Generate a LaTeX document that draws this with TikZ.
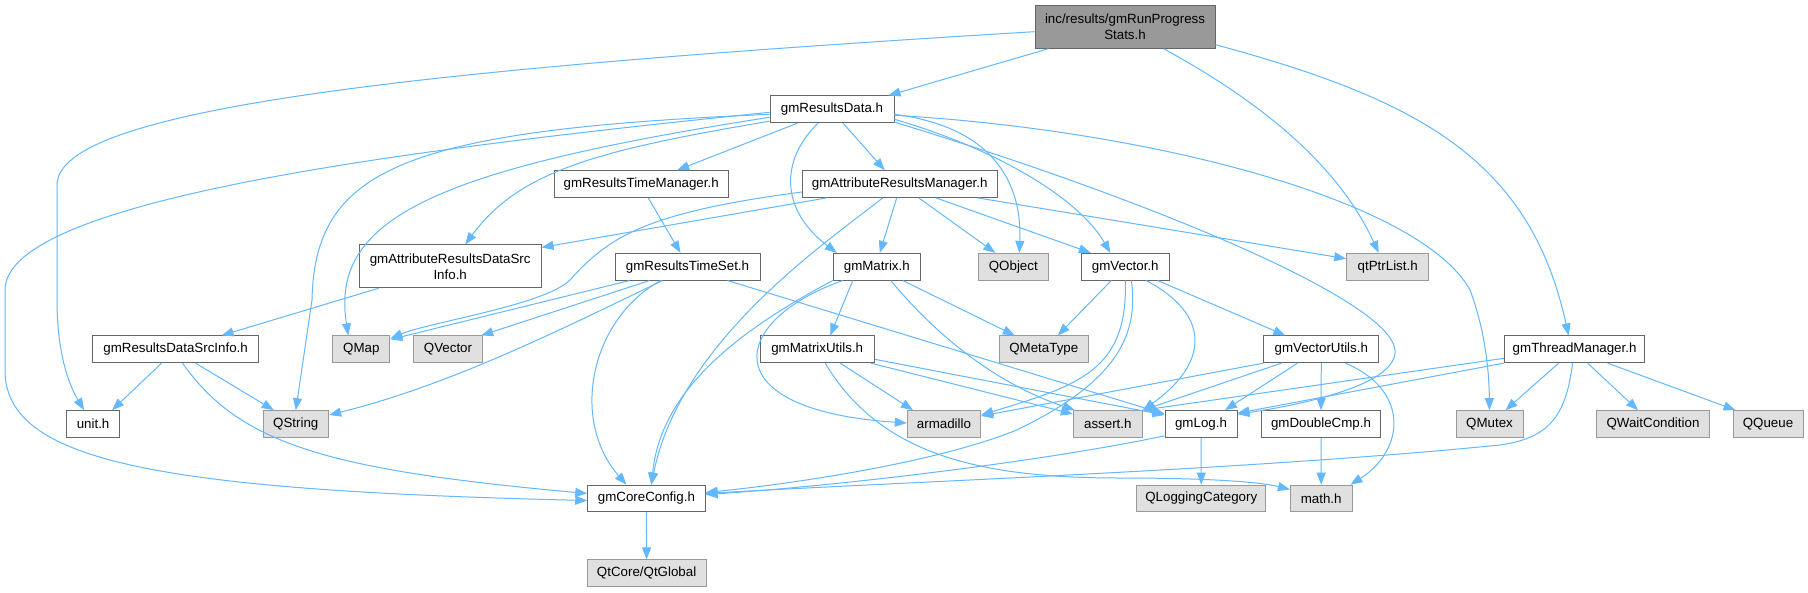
\documentclass[tikz,border=0pt]{standalone}
\usepackage{fontspec}
\setmainfont{Liberation Sans}
\usetikzlibrary{arrows.meta,calc}
\definecolor{edgec}{HTML}{63B8FF}
\definecolor{bordw}{HTML}{666666}
\definecolor{bordg}{HTML}{999999}
\definecolor{fillg}{HTML}{E0E0E0}
\definecolor{rootf}{HTML}{999999}
\newcommand\dgfont{\fontsize{13.33}{16}\selectfont}
\tikzset{
  nb/.style={draw=bordw, fill=white, line width=1pt, inner sep=0pt, minimum height=26.7pt, font=\dgfont, align=center},
  wn/.style={nb},
  gn/.style={nb, draw=bordg, fill=fillg},
  rn/.style={nb, fill=rootf, minimum height=43pt},
  bw/.style={minimum width=#1pt},
  dep/.style={draw=edgec, line width=1pt, -{Triangle[length=12pt,width=9pt]}},
}
\begin{document}
\begin{tikzpicture}[x=1pt,y=-1pt]
\fill[white] (0,0) rectangle (1808,592);
\useasboundingbox (0,0) rectangle (1808,592);
% nodes
\node[rn, bw=180] (root) at (1125,26.7) {inc/results/gmRunProgress\\Stats.h};
\node[wn, bw=124] (rd) at (832,109.3) {gmResultsData.h};
\node[wn, bw=174.3] (rtm) at (641.2,184) {gmResultsTimeManager.h};
\node[wn, bw=194.6] (arm) at (899.7,184) {gmAttributeResultsManager.h};
\node[wn, bw=181.7, minimum height=42.7pt] (ards) at (450.2,266.3) {gmAttributeResultsDataSrc\\Info.h};
\node[wn, bw=145] (rts) at (687.5,266.7) {gmResultsTimeSet.h};
\node[wn, bw=87] (mat) at (876.8,266.7) {gmMatrix.h};
\node[gn, bw=70] (qobj) at (1013.3,266.7) {QObject};
\node[wn, bw=88] (vec) at (1125.3,266.7) {gmVector.h};
\node[gn, bw=82] (qpl) at (1387.7,266.7) {qtPtrList.h};
\node[wn, bw=165.3] (rdsi) at (175.6,349.3) {gmResultsDataSrcInfo.h};
\node[gn, bw=57.3] (qmap) at (361.3,349.3) {QMap};
\node[gn, bw=69.4] (qvec) at (448,349.3) {QVector};
\node[wn, bw=114.3] (mu) at (817.2,349.3) {gmMatrixUtils.h};
\node[gn, bw=89] (qmt) at (1043.8,349.3) {QMetaType};
\node[wn, bw=114.7] (vu) at (1321.3,349.3) {gmVectorUtils.h};
\node[wn, bw=140.4] (tm) at (1574.6,349.3) {gmThreadManager.h};
\node[wn, bw=53.4] (unit) at (93.1,424) {unit.h};
\node[gn, bw=65.6] (qstr) at (295.8,424) {QString};
\node[gn, bw=73.4] (armd) at (944,424) {armadillo};
\node[gn, bw=69] (ast) at (1107.8,424) {assert.h};
\node[wn, bw=72] (log) at (1201,424) {gmLog.h};
\node[wn, bw=119.4] (dc) at (1321,424) {gmDoubleCmp.h};
\node[gn, bw=67] (qmx) at (1489.5,424) {QMutex};
\node[gn, bw=112.5] (qwc) at (1653,424) {QWaitCondition};
\node[gn, bw=70] (qq) at (1768,424) {QQueue};
\node[wn, bw=117.3] (cc) at (646.4,498.5) {gmCoreConfig.h};
\node[gn, bw=129.3] (qlc) at (1201.3,498.5) {QLoggingCategory};
\node[gn, bw=61.6] (math) at (1321.2,498.5) {math.h};
\node[gn, bw=119] (qtg) at (646.6,573.3) {QtCore/QtGlobal};
% root edges
\draw[dep] ($(root.west)+(0,5)$) .. controls (400,70) and (57,110) .. (57,185) -- (57,300) .. controls (57,360) and (72,390) .. ($(unit.north)+(-9,0)$);
\draw[dep] ($(root.south west)+(14,0)$) -- ($(rd.north east)+(-6,0)$);
\draw[dep] ($(root.south east)+(-52,0)$) .. controls (1285,115) and (1345,180) .. ($(qpl.north)+(-9,0)$);
\draw[dep] ($(root.east)+(0,18)$) .. controls (1420,100) and (1530,160) .. ($(tm.north)+(-6,0)$);
% gmResultsData edges
\draw[dep] ($(rd.west)+(0,3)$) .. controls (400,150) and (5,200) .. (5,290) -- (5,370) .. controls (5,460) and (150,490) .. ($(cc.west)+(0,2)$);
\draw[dep] ($(rd.west)+(0,5)$) .. controls (400,130) and (315,170) .. (312,300) -- (qstr.north);
\draw[dep] ($(rd.west)+(0,8)$) .. controls (430,170) and (330,220) .. ($(qmap.north)+(-13,0)$);
\draw[dep] ($(rd.south west)+(0,-2)$) .. controls (600,150) and (520,170) .. ($(ards.north)+(15,0)$);
\draw[dep] ($(rd.south west)+(28,0)$) -- ($(rtm.north)+(36,0)$);
\draw[dep] ($(rd.south)+(-14,0)$) .. controls (780,160) and (780,210) .. ($(mat.north)+(-40,0)$);
\draw[dep] ($(rd.south)+(11,0)$) -- ($(arm.north)+(-15,0)$);
\draw[dep] ($(rd.east)+(0,5)$) .. controls (1000,128) and (1022,190) .. ($(qobj.north)+(6,0)$);
\draw[dep] ($(rd.east)+(0,10)$) .. controls (1000,150) and (1080,200) .. ($(vec.north)+(-15,0)$);
\draw[dep] ($(rd.south east)+(0,-1)$) .. controls (1150,200) and (1390,300) .. (1395,350) .. controls (1398,385) and (1300,405) .. ($(log.north east)+(0,4)$);
\draw[dep] ($(rd.east)+(0,6)$) .. controls (1150,130) and (1420,200) .. (1470,290) .. controls (1485,330) and (1489,370) .. (qmx.north);
% gmAttributeResultsManager edges
\draw[dep] ($(arm.south west)+(25,0)$) -- ($(ards.north east)+(0,3)$);
\draw[dep] ($(arm.west)+(0,8)$) .. controls (650,212) and (610,235) .. (570,280) .. controls (545,305) and (430,322) .. ($(qmap.north east)+(0,3)$);
\draw[dep] ($(arm.south)+(-17,0)$) .. controls (830,240) and (680,340) .. ($(cc.north)+(5,0)$);
\draw[dep] ($(arm.south)+(-3,0)$) -- ($(mat.north)+(3,0)$);
\draw[dep] ($(arm.south)+(19,0)$) -- ($(qobj.north)+(-18,0)$);
\draw[dep] ($(arm.south)+(36,0)$) -- ($(vec.north west)+(10,0)$);
\draw[dep] ($(arm.south east)+(-20,0)$) -- ($(qpl.west)+(0,-8)$);
% others
\draw[dep] ($(rtm.south)+(7,0)$) -- ($(rts.north)+(-7,0)$);
\draw[dep] ($(ards.south west)+(20,0)$) -- ($(rdsi.north)+(46,0)$);
% gmResultsTimeSet edges
\draw[dep] ($(rts.south west)+(15,0)$) -- ($(qmap.north east)+(0,4)$);
\draw[dep] ($(rts.south west)+(35,0)$) -- ($(qvec.north east)+(-2,0)$);
\draw[dep] ($(rts.south west)+(48,0)$) .. controls (560,330) and (450,385) .. ($(qstr.east)+(0,-9)$);
\draw[dep] ($(rts.south west)+(46,0)$) .. controls (590,320) and (570,420) .. ($(cc.north)+(-20,0)$);
\draw[dep] ($(rts.south east)+(-33,0)$) -- ($(log.west)+(0,-10)$);
% gmMatrix edges
\draw[dep] ($(mat.south west)+(10,0)$) .. controls (730,320) and (710,410) .. ($(armd.west)+(0,-1)$);
\draw[dep] (mat.south west) .. controls (720,340) and (660,400) .. ($(cc.north)+(5,0)$);
\draw[dep] ($(mat.south)+(-24,0)$) -- ($(mu.north)+(13,0)$);
\draw[dep] ($(mat.south)+(14,0)$) .. controls (940,340) and (1000,385) .. ($(ast.north west)+(2,0)$);
\draw[dep] ($(mat.south)+(26,0)$) -- ($(qmt.north)+(-29,0)$);
% gmMatrixUtils edges
\draw[dep] ($(mu.south)+(23,0)$) -- ($(armd.north)+(-31,0)$);
\draw[dep] ($(mu.south east)+(-4,0)$) -- ($(ast.west)+(0,-10)$);
\draw[dep] ($(mu.east)+(0,10)$) -- ($(log.west)+(0,-9)$);
\draw[dep] ($(mu.south)+(8,0)$) .. controls (880,455) and (980,478) .. (1120,478) .. controls (1210,478) and (1260,482) .. ($(math.west)+(0,-9)$);
% gmVector edges
\draw[dep] ($(vec.south)+(-14,0)$) -- ($(qmt.north)+(14,0)$);
\draw[dep] (vec.south) .. controls (1128,370) and (1080,385) .. ($(armd.east)+(0,-9)$);
\draw[dep] ($(vec.south)+(6,0)$) .. controls (1140,340) and (1110,385) .. (1016.7,430) .. controls (930,465) and (780,485) .. ($(cc.east)+(0,-6)$);
\draw[dep] ($(vec.south)+(21,0)$) .. controls (1220,320) and (1200,370) .. (ast.north east);
\draw[dep] ($(vec.south east)+(-12,0)$) -- ($(vu.north)+(-36,0)$);
% gmVectorUtils edges
\draw[dep] (vu.south west) -- ($(armd.east)+(0,-8)$);
\draw[dep] ($(vu.south west)+(18,0)$) -- (ast.north east);
\draw[dep] ($(vu.south west)+(34,0)$) -- ($(log.north)+(24,0)$);
\draw[dep] (vu.south) -- (dc.north);
\draw[dep] ($(vu.south)+(24,0)$) .. controls (1410,390) and (1405,450) .. ($(math.north east)+(-2,0)$);
\draw[dep] (dc.south) -- (math.north);
% gmLog edges
\draw[dep] (log.south) -- (qlc.north);
\draw[dep] ($(log.south west)+(0,-2)$) .. controls (1050,460) and (850,485) .. ($(cc.east)+(0,-4)$);
% gmThreadManager edges
\draw[dep] ($(tm.south)+(-16,0)$) -- ($(qmx.north)+(16,0)$);
\draw[dep] ($(tm.south)+(13,0)$) -- ($(qwc.north)+(-15,0)$);
\draw[dep] ($(tm.south)+(33,0)$) -- ($(qq.north west)+(3,0)$);
\draw[dep] ($(tm.south)+(-2,0)$) .. controls (1566,415) and (1550,438) .. (1500,445) .. controls (1250,470) and (900,482) .. ($(cc.east)+(0,-5)$);
\draw[dep] ($(tm.west)+(0,9)$) -- (ast.north east);
\draw[dep] (tm.south west) -- ($(log.north east)+(0,3)$);
% gmResultsDataSrcInfo edges
\draw[dep] ($(rdsi.south)+(-14,0)$) -- ($(unit.north)+(19,0)$);
\draw[dep] ($(rdsi.south)+(20,0)$) -- ($(qstr.north)+(-22,0)$);
\draw[dep] ($(rdsi.south)+(7,0)$) .. controls (240,445) and (330,470) .. ($(cc.west)+(0,-5)$);
% gmCoreConfig
\draw[dep] (cc.south) -- (qtg.north);
\end{tikzpicture}
\end{document}
